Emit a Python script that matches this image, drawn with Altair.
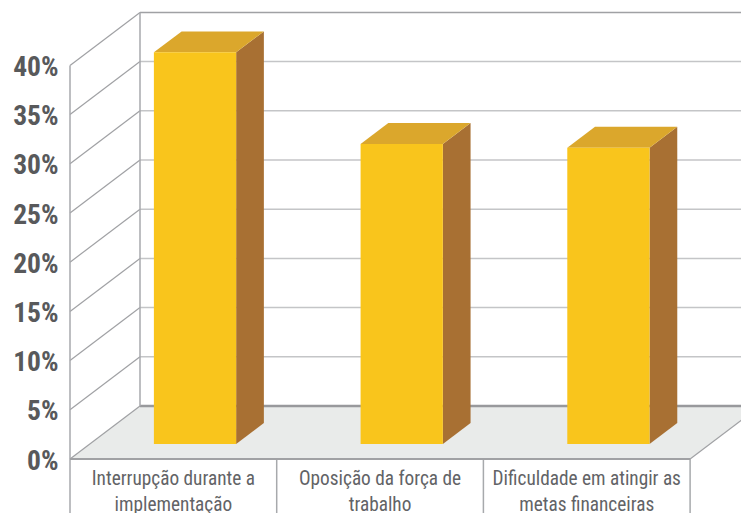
import altair as alt
import pandas as pd

# ---- chart values
categories = ["Interrupção durante a\nimplementação", "Oposição da força de\ntrabalho", "Dificuldade em atingir as\nmetas financeiras"]
values = [39.8, 30.5, 30.1]
ticks = [0, 5, 10, 15, 20, 25, 30, 35, 40]

# ---- oblique projection of the 3D box
W, H = 733, 505
PX_U, PX_P = 206.7, 9.84      # pixels per category, per percent
X0, Y0 = 62, 451              # pixel of origin in the chart
DEPTH_U, DEPTH_P = 70 / PX_U, 53 / PX_P
Z0, Z1 = 0.283, 0.679         # bar depth range
L, R = 0.31, 0.708            # bar extent in a category
FONT = "'Roboto Condensed', 'DejaVu Sans Condensed', Roboto"
x_scale = alt.Scale(domain=[-X0 / PX_U, (W - X0) / PX_U], range=[0, W], nice=False, zero=False)
y_scale = alt.Scale(domain=[-(H - Y0) / PX_P, Y0 / PX_P], range=[H, 0], nice=False, zero=False)
n = len(categories)


def px(u, z=0.0):
    return u + z * DEPTH_U


def py(p, z=0.0):
    return p + z * DEPTH_P


y_axis = alt.Axis(
    values=ticks, offset=-X0, orient="left", domain=False, ticks=False, grid=False, title=None,
    labelExpr="datum.value + '%'", labelFont=FONT, labelFontWeight="bold",
    labelFontSize=27.5, labelColor="#58595b", labelPadding=12, labelOffset=2)
X = alt.X("x:Q", scale=x_scale, axis=None)
X2 = alt.X2("x2:Q")
Y = alt.Y("y:Q", scale=y_scale, axis=y_axis)
Y2 = alt.Y2("y2:Q")


def segs(rows, color, width):
    return alt.Chart(pd.DataFrame(rows)).mark_rule(color=color, strokeWidth=width, clip=True).encode(x=X, x2=X2, y=Y, y2=Y2)


bottom = -(H - Y0) / PX_P
far = (W + 80 - X0) / PX_U

# floor parallelogram
floor = alt.Chart(pd.DataFrame([
    {"y": py(0), "x": px(0), "x2": px(n)},
    {"y": py(0, 1), "x": px(0, 1), "x2": px(n, 1)},
])).mark_area(orient="horizontal", color="#e9ebea", clip=True).encode(y=Y, x=X, x2=X2)

# back wall gridlines
back_grid = segs([{"x": px(0, 1), "x2": far, "y": py(t, 1), "y2": py(t, 1)} for t in ticks[1:-1]], "#c4c5c7", 1.5)
back_top = segs([{"x": px(0, 1), "x2": far, "y": py(40, 1), "y2": py(40, 1)}], "#a0a1a4", 1.5)
back_floor = segs([{"x": px(0, 1), "x2": far, "y": py(0, 1), "y2": py(0, 1)}], "#98999c", 2.5)
# side wall diagonals
diag = segs([{"x": px(0), "x2": px(0, 1), "y": py(t), "y2": py(t, 1)} for t in ticks], "#a0a1a4", 1.2)
floor_right = segs([{"x": px(n), "x2": px(n, 1), "y": py(0), "y2": py(0, 1)}], "#a0a1a4", 1.2)
# verticals
back_v = segs([{"x": px(0, 1), "x2": px(0, 1), "y": py(0, 1), "y2": py(40, 1)}], "#a7a9ac", 1.5)
front_v = segs([{"x": px(0), "x2": px(0), "y": bottom, "y2": py(40)}], "#a7a9ac", 1.5)
dividers = segs([{"x": px(i), "x2": px(i), "y": bottom, "y2": py(0)} for i in range(1, n + 1)], "#a7a9ac", 1.5)
front_base = segs([{"x": px(0), "x2": px(n), "y": py(0), "y2": py(0)}], "#a0a1a4", 2)

front_rows, side_rows, top_rows = [], [], []
for i, v in enumerate(values):
    front_rows.append({"x": px(i + L, Z0), "x2": px(i + R, Z0), "y": py(0, Z0), "y2": py(v, Z0)})
    for z in (Z0, Z1):
        side_rows.append({"b": i, "x": px(i + R, z), "y": py(v, z), "y2": py(0, z)})
        top_rows.append({"b": i, "y": py(v, z), "x": px(i + L, z), "x2": px(i + R, z)})

front = alt.Chart(pd.DataFrame(front_rows)).mark_rect(color="#f9c51c").encode(x=X, x2=X2, y=Y, y2=Y2)
side = alt.Chart(pd.DataFrame(side_rows)).mark_area(color="#a87033").encode(x=X, y=Y, y2=Y2, detail="b:N")
top = alt.Chart(pd.DataFrame(top_rows)).mark_area(orient="horizontal", color="#dba72c").encode(y=Y, x=X, x2=X2, detail="b:N")

labels = alt.Chart(pd.DataFrame({"x": [i + 0.5 for i in range(n)], "y": [0] * n, "t": categories})).mark_text(
    font=FONT, fontSize=19.3, color="#626366", lineBreak="\n", lineHeight=26,
    baseline="top", align="center", dy=11,
).encode(x=X, y=Y, text="t:N")

chart = alt.layer(floor, back_grid, back_top, back_floor, diag, floor_right, back_v, front_v, dividers, front_base,
                  side, top, front, labels).properties(
    width=W, height=H, padding=0, autosize=alt.AutoSizeParams(type="none"),
).configure_view(stroke=None)

chart.save("out.html", embed_options={"renderer": "svg", "actions": False})
